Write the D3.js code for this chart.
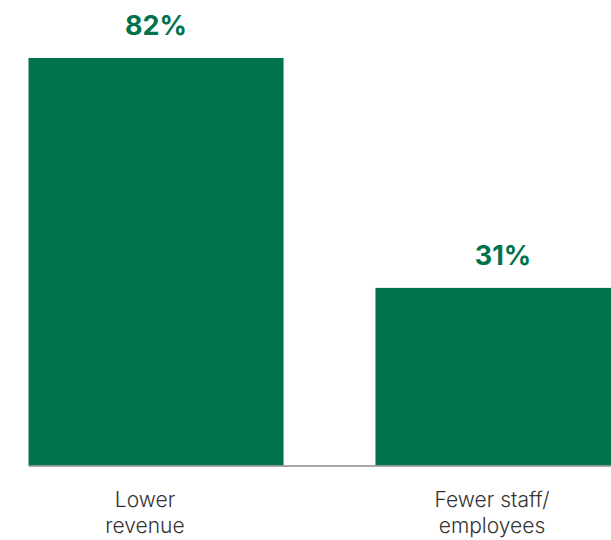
<!DOCTYPE html>
<html>
<head>
<meta charset="utf-8">
<script src="https://cdn.jsdelivr.net/npm/d3@7"></script>
<style>
  html, body { margin: 0; padding: 0; background: #fff; }
  svg { display: block; }
</style>
</head>
<body>
<svg id="canvas" width="611" height="540"></svg>
<script>
// data
const categories = [['Lower', 'revenue'], ['Fewer staff/', 'employees']];
const values = [82, 31];
const valueLabels = ['82%', '31%'];

const green = '#00734d';

const svg = d3.select('#canvas');

// bars are taller than proportional in the source, baseline sits below zero
const floor = -8.4;

const x = d3.scaleBand()
    .domain(d3.range(values.length))
    .range([28.5, 630.5])
    .paddingInner(0.265)
    .paddingOuter(0);

const y = d3.scaleLinear()
    .domain([floor, 82])
    .range([465.5, 58]);

const bars = svg.append('g').attr('id', 'bars');
bars.selectAll('rect')
    .data(values)
    .enter().append('rect')
    .attr('x', (d, i) => x(i))
    .attr('y', d => y(d))
    .attr('width', x.bandwidth())
    .attr('height', d => y(floor) - y(d))
    .attr('fill', green);

// baseline
svg.append('line')
    .attr('x1', x.range()[0])
    .attr('x2', 611)
    .attr('y1', y(floor) + 0.5)
    .attr('y2', y(floor) + 0.5)
    .attr('stroke', '#8a8a8a')
    .attr('stroke-width', 1.5);

// value labels
svg.append('g').selectAll('text')
    .data(values)
    .enter().append('text')
    .attr('x', (d, i) => x(i) + x.bandwidth() / 2)
    .attr('y', d => y(d) - 23)
    .attr('text-anchor', 'middle')
    .attr('font-family', 'Inter, sans-serif')
    .attr('font-weight', 700)
    .attr('font-size', 27)
    .attr('fill', green)
    .text((d, i) => valueLabels[i]);

// category labels
const cats = svg.append('g').selectAll('text')
    .data(categories)
    .enter().append('text')
    .attr('x', (d, i) => x(i) + x.bandwidth() / 2 - 11)
    .attr('y', 507)
    .attr('text-anchor', 'middle')
    .attr('font-family', 'Inter, sans-serif')
    .attr('font-weight', 300)
    .attr('font-size', 21)
    .attr('fill', '#333');

cats.each(function (lines) {
    const t = d3.select(this);
    const cx = t.attr('x');
    lines.forEach((line, k) => {
        t.append('tspan')
            .attr('x', cx)
            .attr('dy', k === 0 ? 0 : 26)
            .text(line);
    });
});
</script>
</body>
</html>
